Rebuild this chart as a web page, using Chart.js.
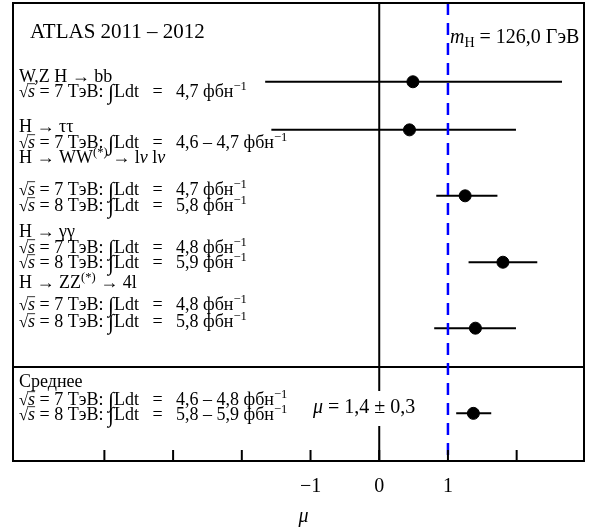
<!DOCTYPE html>
<html>
<head>
<meta charset="utf-8">
<script src="https://cdn.jsdelivr.net/npm/chart.js@4"></script>
<style>
  html, body { margin: 0; padding: 0; background: #fff; }
  #wrap { width: 591px; height: 528px; }
</style>
</head>
<body>
<div id="wrap"><canvas id="muChart" width="591" height="528"></canvas></div>
<script>
// =========================
// DATA
// =========================
const channels = ["W,Z H → bb", "H → ττ", "H → WW", "H → γγ", "H → ZZ", "Среднее"];
const muValues = [0.49, 0.44, 1.25, 1.80, 1.40, 1.37];
const muLow    = [-1.66, -1.57, 0.83, 1.30, 0.80, 1.12];
const muHigh   = [2.66, 1.99, 1.72, 2.30, 1.99, 1.63];
const rowPos   = [1.72, 2.77, 4.21, 5.66, 7.10, 8.96];   // vertical row of each channel
const separatorRow = 7.95;
const tickVals   = [-4, -3, -2, -1, 0, 1, 2];
const tickLabels = ["", "", "", "−1", "0", "1", ""];
const xMin = -5.33, xMax = 2.98;
const yMin = 0, yMax = 10;
const smVal = 1;   // Standard Model expectation

// =========================
// TEXT (rich segments: [text, style])
// =========================
const SERIF = '"Liberation Serif", "DejaVu Serif", serif';
const sq = (e, lumi) => [["√", "rad"], ["s", "i ov"], [" = " + e + " ТэВ: "], ["∫", "int"], ["Ldt   =   " + lumi + " фбн"], ["−1", "sup"]];

const textLines = [
  { x: 17, y: 35, size: 21, segs: [["ATLAS 2011 – 2012"]] },
  { x: 6, y: 78.5, segs: [["W,Z H → bb"]] },
  { x: 6, y: 94, segs: sq("7", "4,7") },
  { x: 6, y: 129, segs: [["H → ττ"]] },
  { x: 6, y: 145, segs: sq("7", "4,6 – 4,7") },
  { x: 6, y: 160, segs: [["H → WW"], ["(*)", "sup"], [" → l"], ["ν", "i"], [" l"], ["ν", "i"]] },
  { x: 6, y: 192, segs: sq("7", "4,7") },
  { x: 6, y: 208, segs: sq("8", "5,8") },
  { x: 6, y: 234, segs: [["H → γγ"]] },
  { x: 6, y: 250, segs: sq("7", "4,8") },
  { x: 6, y: 265, segs: sq("8", "5,9") },
  { x: 6, y: 285, segs: [["H → ZZ"], ["(*)", "sup"], [" → 4l"]] },
  { x: 6, y: 307, segs: sq("7", "4,8") },
  { x: 6, y: 324, segs: sq("8", "5,8") },
  { x: 6, y: 384, segs: [["Среднее"]] },
  { x: 6, y: 402, segs: sq("7", "4,6 – 4,8") },
  { x: 6, y: 417, segs: sq("8", "5,8 – 5,9") },
  { x: 300, y: 410, size: 20, segs: [["μ", "i"], [" = 1,4 ± 0,3"]], box: true },
  { x: 437, y: 40, size: 20, segs: [["m", "i"], ["H", "sub"], [" = 126,0 ГэВ"]] }
];

function segFont(style, size) {
  const it = style.includes("i") ? "italic " : "";
  let s = size;
  if (style.includes("sup") || style.includes("sub")) s = size * 0.7;
  if (style.includes("int")) s = size * 1.2;
  if (style.includes("rad")) s = size * 0.92;
  return it + s + "px " + SERIF;
}

function drawRich(ctx, line, x0, y0) {
  const size = line.size || 18;
  let x = x0;
  const spans = [];
  line.segs.forEach(([txt, style = ""]) => {
    ctx.font = segFont(style, size);
    const w = ctx.measureText(txt).width;
    let dy = 0;
    if (style.includes("sup")) dy = -size * 0.4;
    if (style.includes("sub")) dy = size * 0.2;
    if (style.includes("int")) dy = size * 0.12;
    spans.push({ txt, style, x, dy, w, font: ctx.font });
    x += w;
  });
  if (line.box) {
    ctx.fillStyle = "#fff";
    ctx.fillRect(x0 - 2, y0 - size * 1.1, x - x0 + 4, size * 1.75);
  }
  ctx.fillStyle = "#000";
  ctx.textBaseline = "alphabetic";
  ctx.textAlign = "left";
  spans.forEach(sp => {
    ctx.font = sp.font;
    ctx.fillText(sp.txt, sp.x, y0 + sp.dy);
    if (sp.style.includes("ov")) {
      ctx.beginPath();
      ctx.lineWidth = 0.8;
      ctx.strokeStyle = "#000";
      ctx.moveTo(sp.x - 1, y0 - size * 0.74);
      ctx.lineTo(sp.x + sp.w, y0 - size * 0.74);
      ctx.stroke();
    }
  });
}

// =========================
// DATASETS
// =========================
const datasets = [];

// vertical line at mu = 0
datasets.push({
  type: "line",
  data: [{ x: 0, y: yMin }, { x: 0, y: yMax }],
  borderColor: "#000", borderWidth: 2, pointRadius: 0, order: 5
});
// separator between channels and combined result
datasets.push({
  type: "line",
  data: [{ x: xMin, y: separatorRow }, { x: xMax, y: separatorRow }],
  borderColor: "#000", borderWidth: 2, pointRadius: 0, order: 5
});
// error bars
channels.forEach((c, i) => {
  datasets.push({
    type: "line",
    label: c,
    data: [{ x: muLow[i], y: rowPos[i] }, { x: muHigh[i], y: rowPos[i] }],
    borderColor: "#000", borderWidth: 2, pointRadius: 0, order: 3
  });
});
// central values
datasets.push({
  type: "scatter",
  data: muValues.map((v, i) => ({ x: v, y: rowPos[i] })),
  backgroundColor: "#000", borderColor: "#000",
  pointRadius: 6, pointHoverRadius: 6, order: 1
});

// =========================
// PLUGIN: frame, ticks, labels, SM line
// =========================
const decorations = {
  id: "decorations",
  afterDatasetsDraw(chart) {
    const { ctx, chartArea: a, scales } = chart;
    ctx.save();

    // text annotations (mu box covers the zero line)
    textLines.forEach(l => drawRich(ctx, l, a.left + l.x, a.top + l.y));

    // SM expectation, dashed blue
    const xs = scales.x.getPixelForValue(smVal);
    ctx.beginPath();
    ctx.setLineDash([12, 8]);
    ctx.strokeStyle = "#0000ff";
    ctx.lineWidth = 2.5;
    ctx.moveTo(xs, a.top);
    ctx.lineTo(xs, a.bottom);
    ctx.stroke();
    ctx.setLineDash([]);

    // inward tick marks
    ctx.strokeStyle = "#000";
    ctx.lineWidth = 2;
    tickVals.forEach(v => {
      const px = scales.x.getPixelForValue(v);
      ctx.beginPath();
      ctx.moveTo(px, a.bottom);
      ctx.lineTo(px, a.bottom - 11);
      ctx.stroke();
    });

    // frame
    ctx.lineWidth = 2;
    ctx.strokeRect(a.left, a.top, a.right - a.left, a.bottom - a.top);

    // axis title
    ctx.font = "italic 20px " + SERIF;
    ctx.fillStyle = "#000";
    ctx.textAlign = "left";
    ctx.fillText("μ", scales.x.getPixelForValue(-1) - 12, a.bottom + 61);
    ctx.restore();
  }
};

new Chart(document.getElementById("muChart"), {
  type: "scatter",
  data: { datasets },
  options: {
    responsive: false,
    animation: false,
    events: [],
    layout: { autoPadding: false, padding: { left: 13, right: 7, top: 3, bottom: 31 } },
    plugins: { legend: { display: false }, tooltip: { enabled: false } },
    scales: {
      x: {
        type: "linear",
        min: xMin, max: xMax,
        afterBuildTicks: s => { s.ticks = tickVals.map(v => ({ value: v })); },
        afterFit: s => { s.height = 36; },
        grid: { display: false, drawTicks: false },
        border: { display: false },
        ticks: {
          padding: 14,
          color: "#000",
          font: { family: SERIF, size: 20 },
          callback: (v) => tickLabels[tickVals.indexOf(v)] ?? ""
        }
      },
      y: {
        type: "linear",
        display: false,
        reverse: true,
        min: yMin, max: yMax
      }
    }
  },
  plugins: [decorations]
});
</script>
</body>
</html>
